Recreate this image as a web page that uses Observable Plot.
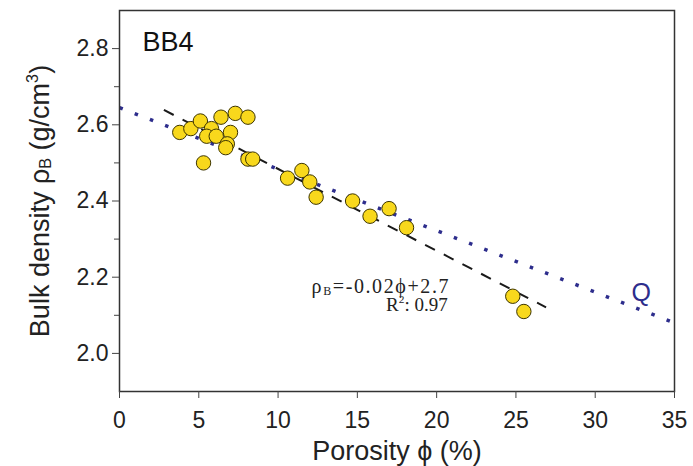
<!DOCTYPE html>
<html><head><meta charset="utf-8">
<script src="https://cdn.jsdelivr.net/npm/d3@7"></script>
<script src="https://cdn.jsdelivr.net/npm/@observablehq/plot@0.6"></script>
<style>body{margin:0;background:#fff} #chart{width:693px;height:466px}</style>
</head><body><div id="chart"></div>
<script>
const porosity = [3.8, 4.5, 5.1, 5.8, 5.5, 6.1, 5.3, 6.4, 7.3, 8.1, 7.0, 6.8, 6.7, 8.1, 8.4, 10.6, 11.5, 12.0, 12.4, 14.7, 15.8, 17.0, 18.1, 24.8, 25.5];
const density  = [2.58, 2.59, 2.61, 2.59, 2.57, 2.57, 2.50, 2.62, 2.63, 2.62, 2.58, 2.55, 2.54, 2.51, 2.51, 2.46, 2.48, 2.45, 2.41, 2.40, 2.36, 2.38, 2.33, 2.15, 2.11];
const fitPorosity = [2.8, 26.9];
const fitDensity = [2.639, 2.121];
const qPorosity = [0, 35];
const qDensity = [2.645, 2.080];
const xTicks = [0, 5, 10, 15, 20, 25, 30, 35];
const yTicks = [2.0, 2.2, 2.4, 2.6, 2.8];
const yMinorTicks = [2.1, 2.3, 2.5, 2.7];
const sampleLabel = "BB4";
const lineLabel = "Q";
const equationText = "ρB=-0.02ϕ+2.7";
const r2Text = "R2: 0.97";
const xTitle = "Porosity ϕ (%)";
const yTitle = "Bulk density ρB (g/cm3)";

const points = porosity.map((p, i) => ({p, d: density[i]}));
const fit = fitPorosity.map((p, i) => ({p, d: fitDensity[i]}));
const qLine = qPorosity.map((p, i) => ({p, d: qDensity[i]}));

const sans = "'Liberation Sans', Arial, Helvetica, sans-serif";
const serif = "'Liberation Serif', 'Times New Roman', serif";

const chart = Plot.plot({
  width: 693, height: 466,
  marginLeft: 119, marginRight: 19, marginTop: 10, marginBottom: 75,
  style: {fontFamily: sans, color: "#222", background: "#fff"},
  x: {domain: [0, 35]},
  y: {domain: [1.9, 2.9]},
  marks: [
    Plot.line(qLine, {x: "p", y: "d", stroke: "#2d2d8c", strokeWidth: 3.5, strokeLinecap: "butt", strokeDasharray: "3.5 12.8"}),
    Plot.line(fit, {x: "p", y: "d", stroke: "#1a1a1a", strokeWidth: 2, strokeLinecap: "butt", strokeDasharray: "11 10"}),
    Plot.dot(points, {x: "p", y: "d", r: 7.2, fill: "#f8d81c", stroke: "#3d3500", strokeWidth: 1}),
    Plot.frame({stroke: "#333", strokeWidth: 1.5}),
    Plot.axisX({ticks: xTicks, tickSize: 7, tickPadding: 13, fontSize: 23, label: null, stroke: "#444", tickFormat: d => String(d)}),
    Plot.axisY({ticks: yTicks, tickSize: 7, tickPadding: 4, fontSize: 23, label: null, stroke: "#444", tickFormat: d => d.toFixed(1)}),
    Plot.axisY({ticks: yMinorTicks, tickSize: 5, text: null, label: null, stroke: "#444"}),
    Plot.text([sampleLabel], {x: 1.45, y: 2.817, textAnchor: "start", fontSize: 27, fill: "#111", fontFamily: sans}),
    Plot.text([lineLabel], {x: 32.9, y: 2.159, fontSize: 25, fill: "#2d2d8c", fontFamily: sans}),
    Plot.text([equationText], {x: 20.85, y: 2.158, textAnchor: "end", lineAnchor: "bottom", fontSize: 20, fill: "#222", fontFamily: serif}),
    Plot.text([r2Text], {x: 20.7, y: 2.111, textAnchor: "end", lineAnchor: "bottom", fontSize: 19, fill: "#222", fontFamily: serif}),
    Plot.text([xTitle], {frameAnchor: "bottom", textAnchor: "middle", dy: 68, lineAnchor: "bottom", fontSize: 27, fill: "#222", fontFamily: sans}),
    Plot.text([yTitle], {frameAnchor: "left", textAnchor: "middle", dx: -71, rotate: -90, lineAnchor: "bottom", fontSize: 27, fill: "#222", fontFamily: sans})
  ]
});

function richText(el, segs) {
  const s = d3.select(el);
  s.text(null);
  for (const g of segs) {
    const t = s.append("tspan").text(g.t);
    if (g.sub) t.attr("font-size", "0.6em").attr("baseline-shift", "-0.15em");
    if (g.sup) t.attr("font-size", "0.6em").attr("baseline-shift", "0.7em");
  }
}
d3.select(chart).selectAll("text").each(function () {
  const c = this.textContent;
  if (c === equationText) {
    richText(this, [{t: "ρ"}, {t: "B", sub: true}, {t: "=-0.02ϕ+2.7"}]);
    this.setAttribute("letter-spacing", "1.6");
  }
  else if (c === r2Text) richText(this, [{t: "R"}, {t: "2", sup: true}, {t: ": 0.97"}]);
  else if (c === yTitle) richText(this, [{t: "Bulk density ρ"}, {t: "B", sub: true}, {t: " (g/cm"}, {t: "3", sup: true}, {t: ")"}]);
});
document.getElementById("chart").appendChild(chart);
</script>
</body></html>
